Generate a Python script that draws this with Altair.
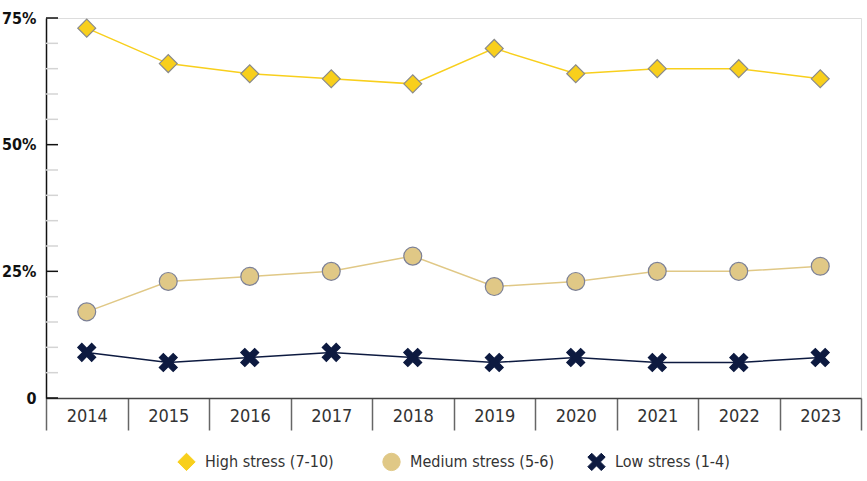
import altair as alt
import pandas as pd

# Share of respondents by self-reported stress level, 2014-2023 (percent)
years = [2014, 2015, 2016, 2017, 2018, 2019, 2020, 2021, 2022, 2023]
high = [73, 66, 64, 63, 62, 69, 64, 65, 65, 63]
medium = [17, 23, 24, 25, 28, 22, 23, 25, 25, 26]
low = [9, 7, 8, 9, 8, 7, 8, 7, 7, 8]

series_names = ["High stress (7-10)", "Medium stress (5-6)", "Low stress (1-4)"]
series_colors = ["#F8CF1C", "#E0C886", "#0D1A40"]
stroke_colors = ["#8A8A8A", "#7C8096", "#0D1A40"]
x_path = ("M-1,-0.55L-0.55,-1L0,-0.45L0.55,-1L1,-0.55L0.45,0L1,0.55L0.55,1"
          "L0,0.45L-0.55,1L-1,0.55L-0.45,0Z")
shapes = ["diamond", "circle", x_path]

# y-axis tick positions drawn inside the plot (every 5%, major every 25%)
tick_values = list(range(0, 80, 5))

rows = []
for name, vals in zip(series_names, [high, medium, low]):
    for y, v in zip(years, vals):
        rows.append({"year": str(y), "value": v, "series": name})
df = pd.DataFrame(rows)
ticks = pd.DataFrame({"v": tick_values, "major": [t % 25 == 0 for t in tick_values]})

FONT = "DejaVu Sans Condensed, DejaVu Sans, sans-serif"
W, H = 815, 380

x_enc = alt.X(
    "year:O",
    title=None,
    scale=alt.Scale(paddingInner=0, paddingOuter=0),
    axis=alt.Axis(
        labelAngle=0, labelFontSize=18, labelColor="#333333", labelFont=FONT,
        tickBand="extent", tickSize=32, tickColor="#666666", tickWidth=1.5,
        domainColor="#444444", domainWidth=1.5, labelPadding=-23,
    ),
)
y_scale = alt.Scale(domain=[0, 75], nice=False, zero=True)
y_enc = alt.Y(
    "value:Q",
    title=None,
    scale=y_scale,
    axis=alt.Axis(
        values=[0, 25, 50, 75], ticks=False, tickSize=0, grid=False,
        labelExpr="datum.value == 0 ? '0' : datum.value + '%'",
        labelFontSize=16, labelFontWeight="bold", labelColor="#111111",
        labelFont=FONT, labelPadding=10, domainColor="#111111", domainWidth=1.5,
    ),
)

tick_layer = alt.Chart(ticks).mark_rule(strokeWidth=1.5).encode(
    x=alt.value(0),
    x2=alt.value(12),
    y=alt.Y("v:Q", scale=y_scale, title=None),
    strokeOpacity=alt.value(1),
    stroke=alt.condition("datum.major", alt.value("#111111"), alt.value("#D4D4D4")),
)

color_enc = alt.Color(
    "series:N",
    scale=alt.Scale(domain=series_names, range=series_colors),
    legend=alt.Legend(
        title=None, orient="none", direction="horizontal",
        legendX=131, legendY=434,
        labelFontSize=16, labelColor="#333333", labelFont=FONT, symbolSize=300,
        labelOffset=9, columnPadding=30, gridAlign="all",
        symbolStrokeColor="#7E8294", symbolStrokeWidth=1,
    ),
)

lines = alt.Chart(df).mark_line(strokeWidth=1.5).encode(
    x=x_enc,
    y=y_enc,
    color=color_enc,
)

points = alt.Chart(df).mark_point(filled=True, opacity=1, strokeWidth=1.2, size=320).encode(
    x=x_enc,
    y=y_enc,
    color=color_enc,
    shape=alt.Shape("series:N", scale=alt.Scale(domain=series_names, range=shapes)),
    stroke=alt.Stroke("series:N", scale=alt.Scale(domain=series_names, range=stroke_colors)),
)

chart = alt.layer(tick_layer, lines, points).properties(
    width=W, height=H,
    autosize=alt.AutoSizeParams(type="none"),
    padding={"left": 46, "top": 18, "right": 6, "bottom": 83},
).configure_view(stroke=None).configure(background="white")

chart.save("out.html", embed_options={"renderer": "svg", "actions": False})
